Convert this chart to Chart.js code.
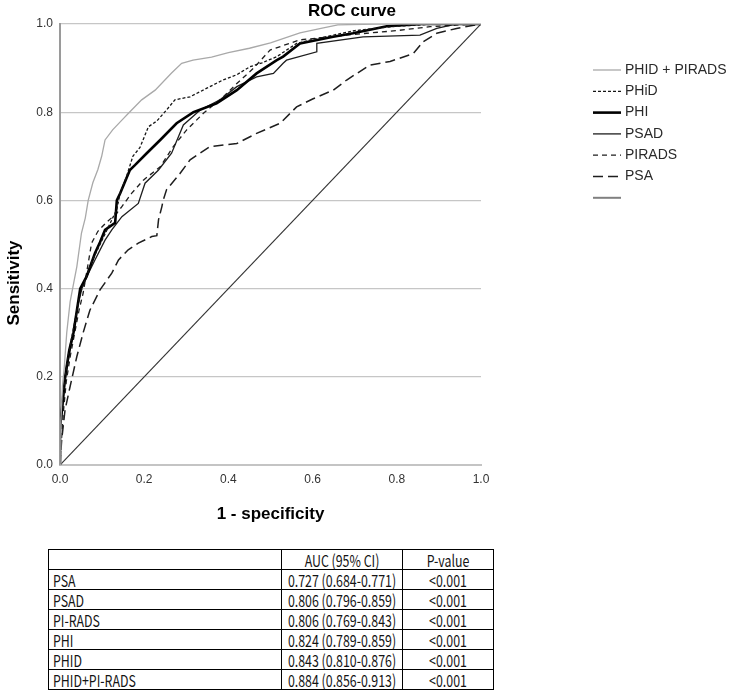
<!DOCTYPE html>
<html>
<head>
<meta charset="utf-8">
<script src="https://cdn.jsdelivr.net/npm/chart.js@4"></script>
<style>
  html, body { margin:0; padding:0; background:#fff; }
  #wrap { position:relative; width:731px; height:693px; overflow:hidden; }
  #c { position:absolute; left:0; top:0; }
  #tbl { position:absolute; left:48px; top:549px; border-collapse:collapse; table-layout:fixed; width:445px;
         font-family:"Noto Sans CJK KR","Noto Sans",sans-serif; font-size:16.5px; color:#151515; }
  #tbl td { border:1px solid #000; height:19px; line-height:18px; padding:0 4px; white-space:nowrap; }
  #tbl td div { width:133.33%; transform:scaleX(0.75); transform-origin:0 50%; }
  #tbl td.c div { text-align:center; }
</style>
</head>
<body>
<div id="wrap">
  <canvas id="c" width="731" height="540"></canvas>
  <table id="tbl">
    <colgroup><col style="width:233px"><col style="width:121px"><col style="width:91px"></colgroup>
  </table>
</div>
<script>
// ---------- data ----------
const seriesLabels = ['PHID + PIRADS', 'PHiD', 'PHI', 'PSAD', 'PIRADS', 'PSA', ''];
const tickValues = [0, 0.2, 0.4, 0.6, 0.8, 1.0];

const phidPiradsFpr = [0, 0.002, 0.006, 0.01, 0.016, 0.024, 0.032, 0.04, 0.051, 0.06, 0.067, 0.078, 0.09, 0.099, 0.107, 0.125, 0.147, 0.165, 0.194, 0.226, 0.265, 0.289, 0.316, 0.36, 0.4, 0.45, 0.5, 0.57, 0.62, 0.66, 0.75, 0.85, 1.0];
const phidPiradsTpr = [0, 0.1, 0.18, 0.22, 0.3, 0.37, 0.41, 0.45, 0.526, 0.56, 0.6, 0.64, 0.67, 0.7, 0.737, 0.76, 0.782, 0.8, 0.828, 0.85, 0.889, 0.911, 0.918, 0.925, 0.935, 0.945, 0.957, 0.98, 0.99, 0.998, 1.0, 1.0, 1.0];

const phidFpr = [0, 0, 0.005, 0.012, 0.02, 0.03, 0.04, 0.048, 0.06, 0.075, 0.09, 0.105, 0.12, 0.135, 0.143, 0.158, 0.173, 0.19, 0.21, 0.23, 0.253, 0.273, 0.309, 0.35, 0.387, 0.42, 0.451, 0.48, 0.515, 0.562, 0.6, 0.65, 0.7, 0.8, 0.9, 1.0];
const phidTpr = [0, 0.08, 0.14, 0.2, 0.25, 0.3, 0.35, 0.39, 0.42, 0.46, 0.49, 0.52, 0.55, 0.58, 0.617, 0.654, 0.7, 0.72, 0.767, 0.78, 0.805, 0.828, 0.835, 0.855, 0.873, 0.885, 0.903, 0.912, 0.926, 0.956, 0.965, 0.975, 0.985, 0.995, 1.0, 1.0];

const phiFpr = [0, 0, 0.004, 0.012, 0.022, 0.032, 0.04, 0.048, 0.063, 0.083, 0.095, 0.107, 0.131, 0.135, 0.143, 0.166, 0.178, 0.206, 0.238, 0.277, 0.317, 0.372, 0.42, 0.467, 0.515, 0.53, 0.57, 0.649, 0.696, 0.776, 0.86, 1.0];
const phiTpr = [0, 0.09, 0.12, 0.2, 0.26, 0.3, 0.35, 0.4, 0.427, 0.48, 0.505, 0.533, 0.549, 0.6, 0.616, 0.669, 0.68, 0.707, 0.737, 0.775, 0.8, 0.82, 0.85, 0.888, 0.918, 0.926, 0.956, 0.971, 0.979, 0.995, 1.0, 1.0];

const psadFpr = [0, 0, 0.005, 0.012, 0.022, 0.032, 0.042, 0.052, 0.065, 0.083, 0.107, 0.123, 0.147, 0.186, 0.202, 0.234, 0.265, 0.293, 0.333, 0.38, 0.42, 0.467, 0.507, 0.53, 0.538, 0.61, 0.61, 0.72, 0.855, 0.895, 0.94, 1.0];
const psadTpr = [0, 0.07, 0.12, 0.19, 0.25, 0.3, 0.36, 0.4, 0.43, 0.465, 0.51, 0.533, 0.563, 0.593, 0.639, 0.669, 0.707, 0.771, 0.805, 0.828, 0.858, 0.88, 0.888, 0.911, 0.918, 0.937, 0.956, 0.971, 0.975, 0.99, 1.0, 1.0];

const piradsFpr = [0, 0.003, 0.008, 0.015, 0.025, 0.035, 0.045, 0.055, 0.063, 0.075, 0.09, 0.11, 0.135, 0.147, 0.17, 0.198, 0.238, 0.269, 0.301, 0.34, 0.388, 0.42, 0.46, 0.499, 0.57, 0.65, 0.728, 0.8, 0.879, 0.95, 1.0];
const piradsTpr = [0, 0.05, 0.12, 0.19, 0.25, 0.3, 0.35, 0.39, 0.435, 0.503, 0.53, 0.55, 0.571, 0.586, 0.616, 0.646, 0.676, 0.722, 0.76, 0.797, 0.835, 0.865, 0.9, 0.941, 0.964, 0.972, 0.979, 0.985, 0.994, 0.998, 1.0];

const psaFpr = [0, 0.004, 0.012, 0.024, 0.04, 0.055, 0.071, 0.095, 0.123, 0.139, 0.162, 0.186, 0.218, 0.23, 0.234, 0.242, 0.245, 0.253, 0.285, 0.309, 0.356, 0.42, 0.467, 0.523, 0.562, 0.6, 0.649, 0.681, 0.736, 0.784, 0.839, 0.863, 0.895, 0.942, 1.0];
const psaTpr = [0, 0.057, 0.125, 0.178, 0.246, 0.3, 0.351, 0.397, 0.435, 0.465, 0.488, 0.503, 0.518, 0.52, 0.556, 0.586, 0.6, 0.624, 0.661, 0.692, 0.722, 0.729, 0.752, 0.775, 0.812, 0.83, 0.85, 0.873, 0.907, 0.915, 0.933, 0.96, 0.979, 0.99, 1.0];

const refFpr = [0, 1];
const refTpr = [0, 1];

// table
const tableHeaders = ['', 'AUC (95% CI)', 'P-value'];
const tableRows = ['PSA', 'PSAD', 'PI-RADS', 'PHI', 'PHID', 'PHID+PI-RADS'];
const aucCi = ['0.727 (0.684-0.771)', '0.806 (0.796-0.859)', '0.806 (0.769-0.843)', '0.824 (0.789-0.859)', '0.843 (0.810-0.876)', '0.884 (0.856-0.913)'];
const pValues = ['<0.001', '<0.001', '<0.001', '<0.001', '<0.001', '<0.001'];

// ---------- chart ----------
const FONT = '"Liberation Sans", Arial, sans-serif';
const xy = (f, t) => f.map((v, i) => ({ x: v, y: t[i] }));

const datasets = [
  { label: seriesLabels[0], data: xy(phidPiradsFpr, phidPiradsTpr), borderColor: '#a9a9a9', borderWidth: 1.3, borderDash: [] },
  { label: seriesLabels[1], data: xy(phidFpr, phidTpr), borderColor: '#151515', borderWidth: 1.3, borderDash: [3, 2] },
  { label: seriesLabels[2], data: xy(phiFpr, phiTpr), borderColor: '#000000', borderWidth: 2.6, borderDash: [] },
  { label: seriesLabels[3], data: xy(psadFpr, psadTpr), borderColor: '#1e1e1e', borderWidth: 1.3, borderDash: [] },
  { label: seriesLabels[4], data: xy(piradsFpr, piradsTpr), borderColor: '#1e1e1e', borderWidth: 1.3, borderDash: [5, 4] },
  { label: seriesLabels[5], data: xy(psaFpr, psaTpr), borderColor: '#1e1e1e', borderWidth: 1.5, borderDash: [10, 5] },
  { label: seriesLabels[6], data: xy(refFpr, refTpr), borderColor: '#333333', borderWidth: 1.2, borderDash: [], legendColor: '#808080', legendWidth: 2 }
];
datasets.forEach(d => { d.pointRadius = 0; d.fill = false; d.tension = 0; });

const customText = {
  id: 'customText',
  afterDraw(chart) {
    const ctx = chart.ctx;
    ctx.save();
    ctx.fillStyle = '#000';
    ctx.font = 'bold 17px ' + FONT;
    ctx.textAlign = 'center';
    ctx.textBaseline = 'middle';
    ctx.fillText('ROC curve', 352, 11);
    ctx.save();
    ctx.translate(14, 283);
    ctx.rotate(-Math.PI / 2);
    ctx.fillText('Sensitivity', 0, 0);
    ctx.restore();
    const x0 = 593, x1 = 621, tx = 625, y0 = 70, dy = 21.3;
    ctx.font = '14px ' + FONT;
    ctx.textAlign = 'left';
    chart.data.datasets.forEach((d, i) => {
      const y = y0 + i * dy;
      ctx.beginPath();
      ctx.setLineDash(d.borderDash || []);
      ctx.lineWidth = d.legendWidth || Math.max(d.borderWidth, 1.3);
      ctx.strokeStyle = d.legendColor || d.borderColor;
      ctx.moveTo(x0, y);
      ctx.lineTo(x1, y);
      ctx.stroke();
      ctx.setLineDash([]);
      ctx.fillStyle = '#2a2a2a';
      ctx.fillText(d.label, tx, y);
    });
    ctx.restore();
  }
};

const tickFont = { family: FONT, size: 12 };
new Chart(document.getElementById('c'), {
  type: 'line',
  data: { datasets },
  options: {
    responsive: false,
    animation: false,
    events: [],
    layout: { padding: { top: 24, right: 250, bottom: 0, left: 0 } },
    plugins: { legend: { display: false }, tooltip: { enabled: false }, title: { display: false } },
    scales: {
      x: {
        type: 'linear', min: 0, max: 1,
        afterBuildTicks: s => { s.ticks = tickValues.map(v => ({ value: v })); },
        afterFit: s => { s.height = 75; },
        grid: { display: false, drawTicks: false },
        border: { display: true, color: '#c4c4c4', width: 2 },
        ticks: { padding: 7, color: '#333', font: tickFont, maxRotation: 0, autoSkip: false, callback: v => Number(v).toFixed(1) },
        title: { display: true, text: '1 - specificity', color: '#000', font: { family: FONT, size: 17, weight: 'bold' }, padding: { top: 0, bottom: 15 } }
      },
      y: {
        type: 'linear', min: 0, max: 1,
        afterBuildTicks: s => { s.ticks = tickValues.map(v => ({ value: v })); },
        afterFit: s => { s.width = 60; },
        grid: { color: '#c6c6c6', lineWidth: 1.3, drawTicks: false },
        border: { display: true, color: '#9a9a9a', width: 2 },
        ticks: { padding: 7, color: '#333', font: tickFont, autoSkip: false, callback: v => Number(v).toFixed(1) },
        title: { display: false }
      }
    }
  },
  plugins: [customText]
});

// ---------- table ----------
const tbl = document.getElementById('tbl');
const mkRow = (cells) => {
  const tr = document.createElement('tr');
  cells.forEach((t, i) => {
    const td = document.createElement('td');
    const div = document.createElement('div');
    div.textContent = t;
    td.appendChild(div);
    if (i > 0) td.className = 'c';
    tr.appendChild(td);
  });
  tbl.appendChild(tr);
};
mkRow(tableHeaders);
tableRows.forEach((r, i) => mkRow([r, aucCi[i], pValues[i]]));
</script>
</body>
</html>
